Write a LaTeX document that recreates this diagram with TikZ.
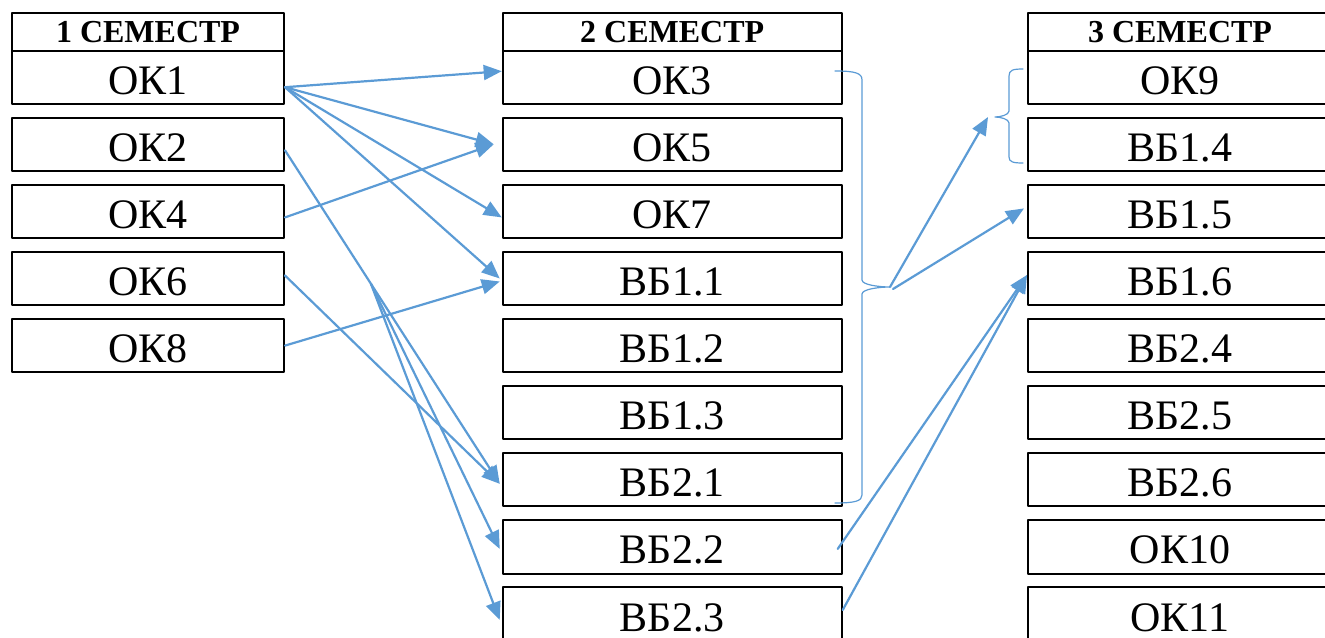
\documentclass[tikz,border=0pt]{standalone}
\usepackage{fontspec}
\setmainfont{Liberation Serif}
\usetikzlibrary{arrows.meta}
\definecolor{lineblue}{RGB}{91,155,213}
\tikzset{
	subj/.style={draw, line width=1pt, inner sep=0pt, minimum height=26.65pt, text height=17pt, text depth=0pt, font=\fontsize{21}{24}\selectfont},
	head/.style={draw, line width=1pt, inner sep=0pt, minimum height=18.75pt, font=\fontsize{16}{18}\selectfont\bfseries},
	link/.style={lineblue, line width=1.1pt, -{Triangle[length=9pt,width=7.5pt]}},
	brace/.style={lineblue, line width=0.6pt}
}
\begin{document}
\begin{tikzpicture}[x=0.5pt, y=-0.5pt, line join=round, line cap=round]
		\def\wa{136pt}
		\def\wb{169.5pt}
		\def\wc{152pt}
		\useasboundingbox (0,0) rectangle (1325,637);
		\clip (0,0) rectangle (1325,637);
		% 1 semester
		\node[head, minimum width=\wa] (h1) at (148,31.75) {1 СЕМЕСТР};
		\node[subj, minimum width=\wa] (ok1) at (148,77.2) {ОК1};
		\node[subj, minimum width=\wa] (ok2) at (148,144.3) {ОК2};
		\node[subj, minimum width=\wa] (ok4) at (148,211.4) {ОК4};
		\node[subj, minimum width=\wa] (ok6) at (148,278.5) {ОК6};
		\node[subj, minimum width=\wa] (ok8) at (148,345.6) {ОК8};
		% 2 semester
		\node[head, minimum width=\wb] (h2) at (672.2,31.75) {2 СЕМЕСТР};
		\node[subj, minimum width=\wb] (ok3) at (672.2,77.2) {ОК3};
		\node[subj, minimum width=\wb] (ok5) at (672.2,144.3) {ОК5};
		\node[subj, minimum width=\wb] (ok7) at (672.2,211.4) {ОК7};
		\node[subj, minimum width=\wb] (vb11) at (672.2,278.5) {ВБ1.1};
		\node[subj, minimum width=\wb] (vb12) at (672.2,345.6) {ВБ1.2};
		\node[subj, minimum width=\wb] (vb13) at (672.2,412.7) {ВБ1.3};
		\node[subj, minimum width=\wb] (vb21) at (672.2,479.8) {ВБ2.1};
		\node[subj, minimum width=\wb] (vb22) at (672.2,546.9) {ВБ2.2};
		\node[subj, minimum width=\wb] (vb23) at (672.2,614) {ВБ2.3};
		% 3 semester
		\node[head, minimum width=\wc] (h3) at (1180,31.75) {3 СЕМЕСТР};
		\node[subj, minimum width=\wc] (ok9) at (1180,77.2) {ОК9};
		\node[subj, minimum width=\wc] (vb14) at (1180,144.3) {ВБ1.4};
		\node[subj, minimum width=\wc] (vb15) at (1180,211.4) {ВБ1.5};
		\node[subj, minimum width=\wc] (vb16) at (1180,278.5) {ВБ1.6};
		\node[subj, minimum width=\wc] (vb24) at (1180,345.6) {ВБ2.4};
		\node[subj, minimum width=\wc] (vb25) at (1180,412.7) {ВБ2.5};
		\node[subj, minimum width=\wc] (vb26) at (1180,479.8) {ВБ2.6};
		\node[subj, minimum width=\wc] (ok10) at (1180,546.9) {ОК10};
		\node[subj, minimum width=\wc] (ok11) at (1180,614) {ОК11};
		% braces
		\coordinate (tipA) at (890,287);
		\coordinate (tipB) at (995,117);
		\draw[brace] (835,71) .. controls (855,71) and (862,73) .. (862,80) -- (862,280)
		.. controls (862,285) and (880,287) .. (tipA) .. controls (880,287) and (862,289) .. (862,294)
		-- (862,495) .. controls (862,501) and (855,503) .. (835,503);
		\draw[brace] (1023,69) .. controls (1013,69) and (1009,70) .. (1009,76) -- (1009,111)
		.. controls (1009,115) and (1000,117) .. (tipB) .. controls (1000,117) and (1009,119) .. (1009,123)
		-- (1009,157) .. controls (1009,162) and (1013,163) .. (1023,163);
		% links 1 -> 2
		\draw[link] ([yshift=-5pt]ok1.east) -- ([yshift=3pt]ok3.west);
		\draw[link] ([yshift=-5pt]ok1.east) -- ([xshift=-4pt]ok5.west);
		\draw[link] ([yshift=-5pt]ok1.east) -- ([yshift=-3pt]ok7.west);
		\draw[link] ([yshift=-5pt]ok1.east) -- ([xshift=-1pt]vb11.west);
		\draw[link] ([yshift=-3pt]ok4.east) -- ([xshift=-4pt]ok5.west);
		\draw[link] (ok8.east) -- ([shift={(-1pt,-1.5pt)}]vb11.west);
		\draw[link] ([yshift=-3pt]ok2.east) -- coordinate[pos=0.4] (br) ([shift={(-1pt,-2pt)}]vb21.west);
		\draw[link] ([yshift=1.5pt]ok6.east) -- ([shift={(-1pt,-2pt)}]vb21.west);
		\draw[link] (br) -- ([shift={(-1pt,-1pt)}]vb22.west);
		\draw[link] (br) -- ([shift={(-1pt,-3pt)}]vb23.west);
		% links 2 -> 3
		\draw[link] (tipA) -- ([xshift=-3.5pt]tipB);
		\draw[link] ([shift={(1.5pt,-1pt)}]tipA) -- ([shift={(-1.5pt,1.5pt)}]vb15.west);
		\draw[link] ([shift={(-2.5pt,-1pt)}]vb22.east) -- ([yshift=1.75pt]vb16.west);
		\draw[link] ([yshift=2pt]vb23.east) -- ([yshift=1.75pt]vb16.west);
\end{tikzpicture}
\end{document}
